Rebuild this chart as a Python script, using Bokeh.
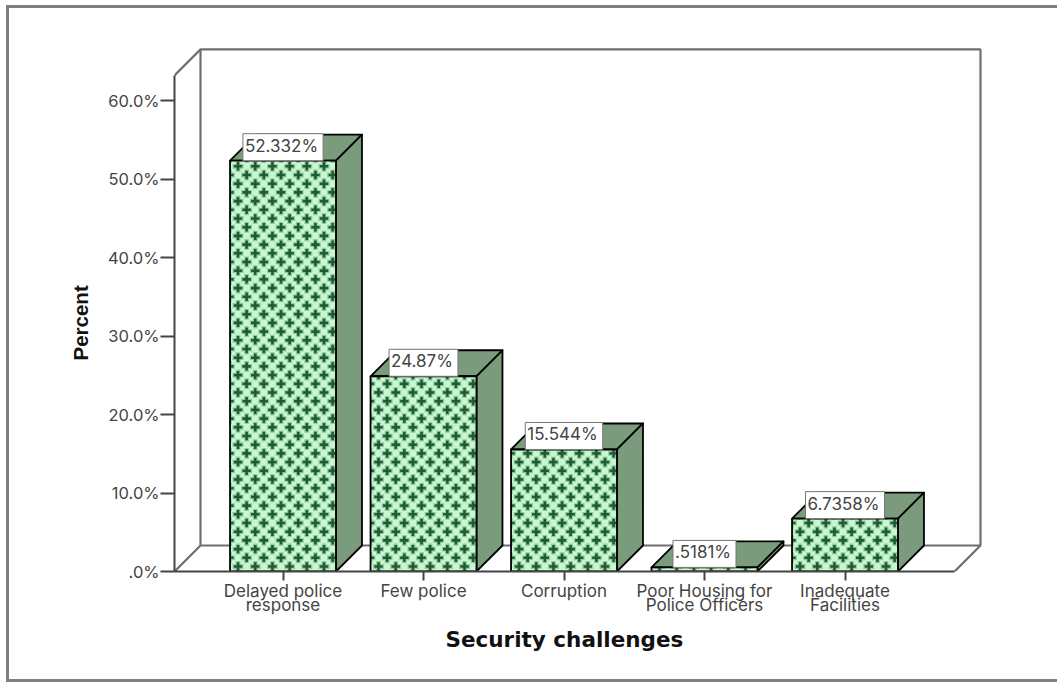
from bokeh.embed import file_html
from bokeh.resources import INLINE
from bokeh.models import ColumnDataSource, FixedTicker, LinearAxis, Range1d, Title
from bokeh.plotting import figure
from bokeh.core.properties import value

# Chart data
categories = ["Delayed police\nresponse", "Few police", "Corruption",
              "Poor Housing for\nPolice Officers", "Inadequate\nFacilities"]
percents = [52.332, 24.87, 15.544, 0.5181, 6.7358]
value_labels = ["52.332%", "24.87%", "15.544%", ".5181%", "6.7358%"]
y_ticks = [0, 10, 20, 30, 40, 50, 60]
y_tick_labels = [".0%", "10.0%", "20.0%", "30.0%", "40.0%", "50.0%", "60.0%"]
axis_top = 63.2
bar_width = 0.754

# Scale factors of the plot frame, used to give the box faces an equal oblique depth
W, H = 1057, 682
FL, FR, FT, FB = 174, 985, 42, 571
PX_PER_CAT = 140.5
PX_PER_PCT = 7.85
CENTER0 = 282.5
depth_x = 26 / PX_PER_CAT
depth_y = 26 / PX_PER_PCT
x_min = (FL - CENTER0) / PX_PER_CAT
x_max = (FR - CENTER0) / PX_PER_CAT
y_max = (FB - FT) / PX_PER_PCT
floor_right = x_min + (954 - FL) / PX_PER_CAT

FONT = "Inter"
WALL = "#6e6e6e"
FACE = "#c9f7cf"
SHADE = "#7b9c7c"
EDGE = "#808080"

p = figure(width=W, height=H, output_backend="svg", toolbar_location=None,
           x_range=Range1d(x_min, x_max), y_range=Range1d(0, y_max),
           x_axis_type=None, y_axis_type=None,
           min_border_left=FL, min_border_right=W - FR,
           min_border_top=FT, min_border_bottom=H - FB,
           outline_line_color=None, background_fill_color="white",
           border_fill_color=None)
p.grid.visible = False

# Picture edge: top, left and bottom rules painted behind the transparent canvas
rule = f"linear-gradient({EDGE},{EDGE})"
p.styles = {
    "background-color": "white",
    "background-image": f"{rule},{rule},{rule}",
    "background-size": "1051px 3px, 3px 675px, 1051px 3px",
    "background-position": "6px 5px, 6px 5px, 6px 679px",
    "background-repeat": "no-repeat",
}

# Back wall, side wall and floor of the 3D box
back_x = x_min + depth_x
wall_xs = [[back_x, back_x, floor_right + depth_x, floor_right + depth_x],
           [x_min, back_x],
           [x_min, back_x, floor_right + depth_x, floor_right]]
wall_ys = [[depth_y, axis_top + depth_y, axis_top + depth_y, depth_y],
           [axis_top, axis_top + depth_y],
           [0, depth_y, depth_y, 0]]
p.multi_line(wall_xs, wall_ys, line_color=WALL, line_width=2.2)


def plus_rects(left, right, top, arm_px, half_thick_px):
    """Rectangles of a staggered plus pattern, clipped to one front face."""
    step_x, step_y = 17.2 / PX_PER_CAT, 8.7 / PX_PER_PCT
    arm_x, arm_y = arm_px / PX_PER_CAT, arm_px / PX_PER_PCT
    thick_x, thick_y = half_thick_px / PX_PER_CAT, half_thick_px / PX_PER_PCT
    ls, rs, ts, bs = [], [], [], []

    def add(x0, x1, y0, y1):
        x0, x1, y0, y1 = max(x0, left), min(x1, right), max(y0, 0), min(y1, top)
        if x0 < x1 and y0 < y1:
            ls.append(x0); rs.append(x1); bs.append(y0); ts.append(y1)

    row = 0
    y = 5 / PX_PER_PCT
    while y - arm_y < top:
        x = left + (8 if row % 2 == 0 else -0.6) / PX_PER_CAT
        while x - arm_x < right:
            add(x - arm_x, x + arm_x, y - thick_y, y + thick_y)
            add(x - thick_x, x + thick_x, y - arm_y, y + arm_y)
            x += step_x
        y += step_y
        row += 1
    return dict(left=ls, right=rs, top=ts, bottom=bs)


for i, v in enumerate(percents):
    left, right = i - bar_width / 2, i + bar_width / 2
    top_face_x = [left, right, right + depth_x, left + depth_x]
    top_face_y = [v, v, v + depth_y, v + depth_y]
    side_face_x = [right, right + depth_x, right + depth_x, right]
    side_face_y = [0, depth_y, v + depth_y, v]
    p.patch(top_face_x, top_face_y, fill_color=SHADE, line_color="black",
            line_width=1.8, line_join="round")
    p.patch(side_face_x, side_face_y, fill_color=SHADE, line_color="black",
            line_width=1.8, line_join="round")
    p.quad(left=[left], right=[right], top=[v], bottom=[0], fill_color=FACE, line_color=None)
    # Soft halo first, then the dark plus core
    p.quad(source=ColumnDataSource(plus_rects(left, right, v, 5.5, 2.4)), left="left", right="right",
           top="top", bottom="bottom", fill_color="#93cba2", line_color=None)
    p.quad(source=ColumnDataSource(plus_rects(left, right, v, 4.2, 1.3)), left="left", right="right",
           top="top", bottom="bottom", fill_color="#1f5c33", line_color=None)
    p.quad(left=[left], right=[right], top=[v], bottom=[0], fill_alpha=0, line_color="black",
           line_width=1.8)

# Value tags that sit on the bars
tags = ColumnDataSource(dict(x=list(range(len(percents))), y=percents, text=value_labels))
p.text(x="x", y="y", text="text", source=tags, text_align="center",
       text_baseline="bottom", text_font=value(FONT), text_font_size="17px",
       text_color="#444444", background_fill_color="white",
       border_line_color="#777777", border_line_width=1, padding=[2, 5, 2, 5])

# Axes
left_axis = LinearAxis(bounds=(0, axis_top), ticker=FixedTicker(ticks=y_ticks),
                       major_label_overrides=dict(zip(y_ticks, y_tick_labels)),
                       major_label_text_font=FONT, major_label_text_font_size="16.5px",
                       major_label_text_color="#444444", major_label_standoff=1,
                       axis_line_color="#444444", axis_line_width=2,
                       major_tick_line_color="#444444", major_tick_line_width=2,
                       major_tick_out=14, major_tick_in=0, minor_tick_line_color=None)
p.add_layout(left_axis, "left")

bottom_axis = LinearAxis(bounds=(x_min, floor_right),
                         ticker=FixedTicker(ticks=list(range(len(categories)))),
                         major_label_overrides=dict(enumerate(categories)),
                         major_label_text_font=FONT, major_label_text_font_size="17px",
                         major_label_text_color="#444444", major_label_standoff=0,
                         major_label_text_line_height=0.7,
                         axis_line_color="#444444", axis_line_width=2,
                         major_tick_line_color="#444444", major_tick_line_width=2,
                         major_tick_out=9, major_tick_in=0, minor_tick_line_color=None)
p.add_layout(bottom_axis, "below")

# Axis titles sit in the side panels so they can start past the frame corner
p.add_layout(Title(text="Percent", align="left", offset=211, standoff=25,
                   text_font="Liberation Sans", text_font_style="bold",
                   text_font_size="20.5px", text_color="#111111"), "left")
p.add_layout(Title(text="Security challenges", align="left", offset=271, standoff=14,
                   text_font="DejaVu Sans", text_font_style="bold",
                   text_font_size="21.5px", text_color="#111111"), "below")

open("out.html", "w").write(file_html(p, INLINE))
